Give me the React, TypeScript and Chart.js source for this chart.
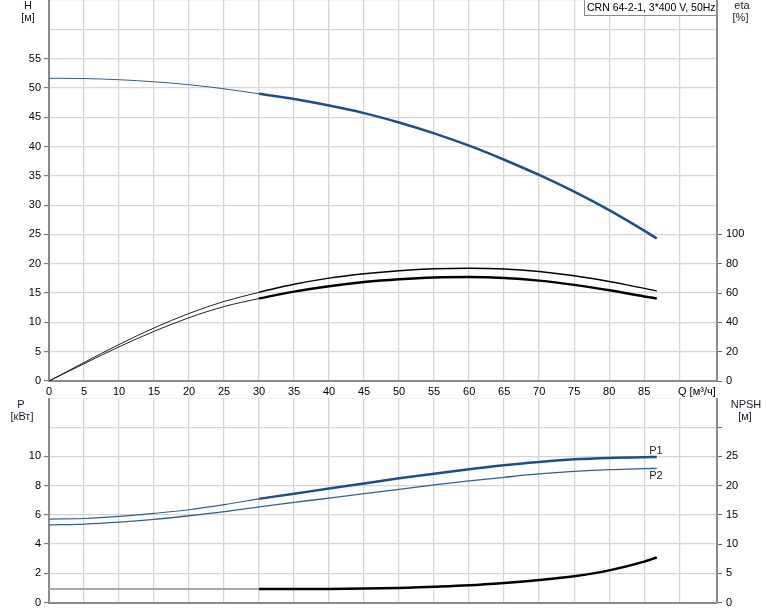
import React, { useEffect, useRef } from 'react';
import { Chart, registerables } from 'chart.js';

Chart.register(...registerables);

// ---------- data ----------
const qThin = [0, 5, 10, 15, 20, 25, 30];
const qThick = [30, 35, 40, 45, 50, 55, 60, 65, 70, 75, 80, 85, 86.8];
const qAll = [0, 5, 10, 15, 20, 25, 30, 35, 40, 45, 50, 55, 60, 65, 70, 75, 80, 85, 86.8];

const hThin = [51.65, 51.6, 51.4, 51.05, 50.55, 49.85, 49.0];
const hThick = [49.0, 48.1, 47.0, 45.7, 44.1, 42.25, 40.15, 37.75, 35.15, 32.3, 29.15, 25.65, 24.3];

const eta1Thin = [0, 12.6, 24.9, 36.2, 46.1, 54.3, 60.5];
const eta1Thick = [60.5, 66.0, 70.2, 73.2, 75.3, 76.6, 77.0, 76.5, 74.7, 71.8, 67.9, 63.2, 61.5];
const eta2Thin = [0, 11.8, 23.3, 33.9, 43.2, 50.8, 56.3];
const eta2Thick = [56.3, 61.0, 64.7, 67.5, 69.4, 70.6, 70.9, 70.3, 68.5, 65.6, 61.9, 57.7, 56.3];

const p1Thin = [5.71, 5.75, 5.89, 6.1, 6.35, 6.7, 7.1];
const p1Thick = [7.1, 7.45, 7.8, 8.15, 8.5, 8.82, 9.12, 9.4, 9.62, 9.8, 9.9, 9.95, 9.96];
const p2All = [5.32, 5.37, 5.5, 5.69, 5.94, 6.22, 6.55, 6.85, 7.15, 7.45, 7.75, 8.05, 8.32, 8.57, 8.8, 8.97, 9.09, 9.16, 9.18];

const qNpshThin = [0, 30];
const npshThin = [2.3, 2.3];
const npshThick = [2.3, 2.3, 2.32, 2.38, 2.5, 2.7, 2.95, 3.35, 3.85, 4.5, 5.5, 7.0, 7.7];

const xTicks = [0, 5, 10, 15, 20, 25, 30, 35, 40, 45, 50, 55, 60, 65, 70, 75, 80, 85, 90];
const hTicks = [0, 5, 10, 15, 20, 25, 30, 35, 40, 45, 50, 55, 60, 65];
const etaTicks = [0, 20, 40, 60, 80, 100];
const pTicks = [0, 2, 4, 6, 8, 10, 12, 14];
const npshTicks = [0, 5, 10, 15, 20, 25, 30];

const legendText = 'CRN 64-2-1, 3*400 V, 50Hz';

// ---------- styles ----------
const FONT = "'Liberation Sans', Arial, sans-serif";
const BLUE = '#1b4f8c';
const BLUE_THIN = '#2f5f9a';
const GRID = '#d5d5d5';
const AXIS = '#8a8a8a';
const TICK = '#666666';
const TXT = '#000000';
const TITLE = '#1a1a33';

const pts = (xs: number[], ys: number[]) => xs.map((x, i) => ({ x, y: ys[i] }));
const setTicks = (arr: number[]) => (s: any) => {
  s.ticks = arr.map((v) => ({ value: v }));
};

function lineDs(data: any, color: string, width: number, axis: string) {
  return {
    data,
    borderColor: color,
    borderWidth: width,
    yAxisID: axis,
    pointRadius: 0,
    fill: false,
    cubicInterpolationMode: 'monotone' as const,
  };
}

const tickFont = { family: FONT, size: 11 };

const topTextPlugin = {
  id: 'topText',
  afterDraw(chart: any) {
    const ctx = chart.ctx;
    ctx.save();
    ctx.font = `11px ${FONT}`;
    ctx.textAlign = 'center';
    ctx.textBaseline = 'middle';
    ctx.fillStyle = TITLE;
    ctx.fillText('H', 28, 5.5);
    ctx.fillText('[м]', 28, 17.5);
    ctx.fillText('eta', 742, 5.5);
    ctx.fillText('[%]', 740.5, 17.5);
    ctx.textAlign = 'left';
    ctx.fillStyle = TXT;
    ctx.fillText('Q [м³/ч]', 678, 391.5);
    ctx.fillStyle = '#ffffff';
    ctx.fillRect(584.5, -0.5, 132, 16);
    ctx.strokeStyle = '#8a8a8a';
    ctx.lineWidth = 1;
    ctx.strokeRect(584.5, -0.5, 132, 16);
    ctx.fillStyle = TXT;
    ctx.font = `10.5px ${FONT}`;
    ctx.fillText(legendText, 587, 7.8);
    ctx.restore();
  },
};

const bottomTextPlugin = {
  id: 'bottomText',
  afterDraw(chart: any) {
    const ctx = chart.ctx;
    ctx.save();
    ctx.font = `11px ${FONT}`;
    ctx.textAlign = 'center';
    ctx.textBaseline = 'middle';
    ctx.fillStyle = TITLE;
    ctx.fillText('P', 21, 6.5);
    ctx.fillText('[кВт]', 22, 18.5);
    ctx.fillText('NPSH', 746, 6.5);
    ctx.fillText('[м]', 745, 19);
    ctx.fillStyle = '#222';
    ctx.fillText('P1', 656, 53);
    ctx.fillText('P2', 656, 78);
    ctx.restore();
  },
};

export default function App() {
  const topRef = useRef<HTMLCanvasElement>(null);
  const botRef = useRef<HTMLCanvasElement>(null);

  useEffect(() => {
    const top = new Chart(topRef.current as HTMLCanvasElement, {
      type: 'line',
      data: {
        datasets: [
          lineDs(pts(qThin, hThin), BLUE_THIN, 1, 'y'),
          lineDs(pts(qThick, hThick), BLUE, 2.5, 'y'),
          lineDs(pts(qThin, eta1Thin), '#222', 1, 'y2'),
          lineDs(pts(qThick, eta1Thick), '#000', 1.5, 'y2'),
          lineDs(pts(qThin, eta2Thin), '#222', 1, 'y2'),
          lineDs(pts(qThick, eta2Thick), '#000', 2.5, 'y2'),
        ] as any,
      },
      options: {
        responsive: false,
        animation: false,
        layout: { padding: 0 },
        plugins: { legend: { display: false }, tooltip: { enabled: false } },
        scales: {
          x: {
            type: 'linear',
            min: 0,
            max: 95.4,
            afterBuildTicks: setTicks(xTicks),
            afterFit: (s: any) => {
              s.height = 17;
              s.paddingLeft = 0;
              s.paddingRight = 0;
            },
            ticks: {
              autoSkip: false,
              maxRotation: 0,
              padding: 4,
              color: TXT,
              font: tickFont,
              callback: (v: any) => (v <= 85 ? String(v) : ''),
            },
            grid: { color: GRID, lineWidth: 1.3, drawTicks: false },
            border: { color: AXIS, width: 2 },
          },
          y: {
            position: 'left',
            min: 0,
            max: 65,
            afterBuildTicks: setTicks(hTicks),
            afterFit: (s: any) => {
              s.width = 49;
              s.paddingTop = 0;
              s.paddingBottom = 0;
            },
            ticks: {
              autoSkip: false,
              padding: 3,
              color: TXT,
              font: tickFont,
              callback: (v: any) => (v <= 55 ? String(v) : ''),
            },
            grid: {
              color: GRID,
              lineWidth: 1.3,
              tickLength: 5,
              tickWidth: 1,
              tickColor: (c: any) => (c.tick && c.tick.value <= 55 ? TICK : 'rgba(0,0,0,0)'),
            },
            border: { color: AXIS, width: 2 },
          },
          y2: {
            position: 'right',
            min: 0,
            max: 260,
            afterBuildTicks: setTicks(etaTicks),
            afterFit: (s: any) => {
              s.width = 57;
              s.paddingTop = 0;
              s.paddingBottom = 0;
            },
            ticks: { autoSkip: false, padding: 4, color: TXT, font: tickFont },
            grid: { drawOnChartArea: false, tickLength: 5, tickWidth: 1, tickColor: TICK },
            border: { color: AXIS, width: 2 },
          },
        },
      } as any,
      plugins: [topTextPlugin],
    });

    const bot = new Chart(botRef.current as HTMLCanvasElement, {
      type: 'line',
      data: {
        datasets: [
          lineDs(pts(qNpshThin, npshThin), '#a8a8a8', 2, 'y2'),
          lineDs(pts(qThick, npshThick), '#000', 2.5, 'y2'),
          lineDs(pts(qAll, p2All), BLUE_THIN, 1.3, 'y'),
          lineDs(pts(qThin, p1Thin), BLUE_THIN, 1.2, 'y'),
          lineDs(pts(qThick, p1Thick), BLUE, 2.5, 'y'),
        ] as any,
      },
      options: {
        responsive: false,
        animation: false,
        layout: { padding: 0 },
        plugins: { legend: { display: false }, tooltip: { enabled: false } },
        scales: {
          x: {
            type: 'linear',
            min: 0,
            max: 95.4,
            afterBuildTicks: setTicks(xTicks),
            afterFit: (s: any) => {
              s.height = 8.5;
              s.paddingLeft = 0;
              s.paddingRight = 0;
            },
            ticks: { display: false },
            grid: { color: GRID, lineWidth: 1.3, drawTicks: false },
            border: { color: AXIS, width: 2 },
          },
          y: {
            position: 'left',
            min: 0,
            max: 14,
            afterBuildTicks: setTicks(pTicks),
            afterFit: (s: any) => {
              s.width = 49;
              s.paddingTop = 0;
              s.paddingBottom = 0;
            },
            ticks: {
              autoSkip: false,
              padding: 3,
              color: TXT,
              font: tickFont,
              callback: (v: any) => (v <= 10 ? String(v) : ''),
            },
            grid: {
              color: GRID,
              lineWidth: 1.3,
              tickLength: 5,
              tickWidth: 1,
              tickColor: (c: any) => (c.tick && c.tick.value <= 10 ? TICK : 'rgba(0,0,0,0)'),
            },
            border: { color: AXIS, width: 2 },
          },
          y2: {
            position: 'right',
            min: 0,
            max: 35,
            afterBuildTicks: setTicks(npshTicks),
            afterFit: (s: any) => {
              s.width = 57;
              s.paddingTop = 0;
              s.paddingBottom = 0;
            },
            ticks: {
              autoSkip: false,
              padding: 4,
              color: TXT,
              font: tickFont,
              callback: (v: any) => (v <= 25 ? String(v) : ''),
            },
            grid: { drawOnChartArea: false, tickLength: 5, tickWidth: 1, tickColor: TICK },
            border: { color: AXIS, width: 2 },
          },
        },
      } as any,
      plugins: [bottomTextPlugin],
    });

    return () => {
      top.destroy();
      bot.destroy();
    };
  }, []);

  return (
    <div style={{ position: 'absolute', left: 0, top: 0, width: 774, height: 611, background: '#fff' }}>
      <canvas
        ref={topRef}
        width={774}
        height={398}
        style={{ position: 'absolute', left: 0, top: 0, width: 774, height: 398 }}
      />
      <canvas
        ref={botRef}
        width={774}
        height={213}
        style={{ position: 'absolute', left: 0, top: 398, width: 774, height: 213 }}
      />
    </div>
  );
}
